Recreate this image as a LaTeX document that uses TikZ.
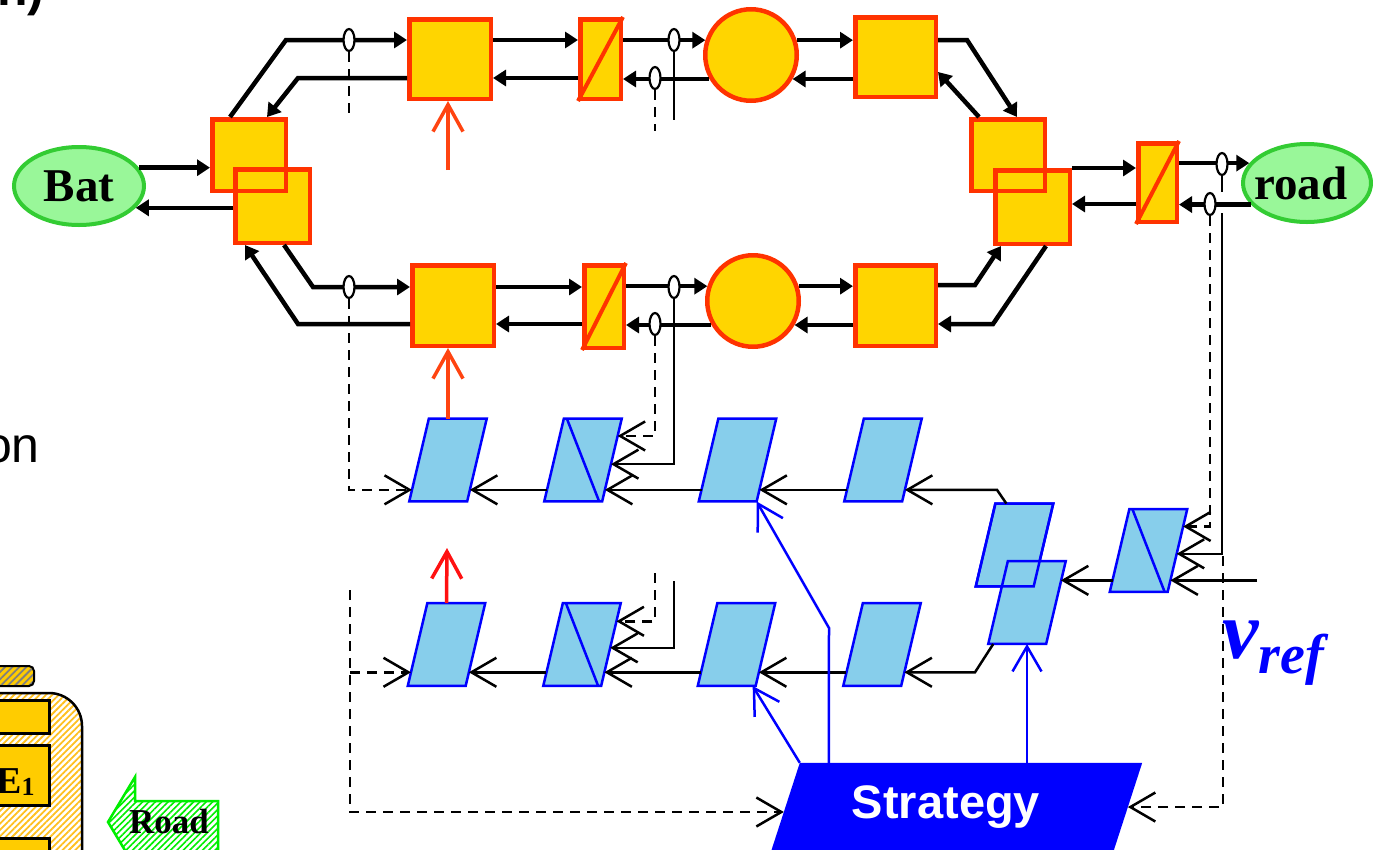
\documentclass[tikz,border=0pt]{standalone}
\usepackage{fontspec}
\setmainfont{Liberation Serif}
\setsansfont{Liberation Sans}
\usetikzlibrary{arrows.meta,shapes.geometric,calc,patterns.meta}
\definecolor{gold}{HTML}{FFD500}
\definecolor{redb}{HTML}{FF3300}
\definecolor{lgreen}{HTML}{99F799}
\definecolor{dgreen}{HTML}{33CC33}
\definecolor{sky}{HTML}{87CEEB}
\definecolor{pblue}{HTML}{0000FF}
\definecolor{orar}{HTML}{FF4411}
\definecolor{rred}{HTML}{FF1111}
\definecolor{hgreen}{HTML}{00EE00}
\definecolor{hyel}{HTML}{FFC020}
\definecolor{boxy}{HTML}{FFCC00}
% parallelogram: [extra style]{name}{cx}{cy}{half slant}
\newcommand\para[5][]{%
  \node[pbox] (#2) at (#3,#4) {};
  \coordinate (#2-tl) at ([xshift=#5pt]#2.north west);
  \coordinate (#2-tr) at ([xshift=#5pt]#2.north east);
  \coordinate (#2-br) at ([xshift=-#5pt]#2.south east);
  \coordinate (#2-bl) at ([xshift=-#5pt]#2.south west);
  \filldraw[pstyle,#1] (#2-tl) -- (#2-tr) -- (#2-br) -- (#2-bl) -- cycle;}
\newcommand\mkedge[3]{%
  \coordinate (#1-l) at ($(#1-bl)!#2!(#1-tl)$);
  \coordinate (#1-r) at ($(#1-br)!#3!(#1-tr)$);}
\begin{document}
\begin{tikzpicture}[x=1pt,y=-1pt,
  sq/.style={rectangle, draw=redb, fill=gold, line width=4.5pt, inner sep=0pt},
  circ/.style={circle, draw=redb, fill=gold, line width=4.5pt, inner sep=0pt, minimum size=91.5pt},
  term/.style={ellipse, draw=dgreen, fill=lgreen, line width=4pt, inner sep=0pt, minimum width=130pt, minimum height=78pt},
  termtext/.style={inner sep=0pt, font=\bfseries\fontsize{47}{50}\selectfont},
  sens/.style={ellipse, draw=black, fill=white, line width=2.2pt, inner sep=0pt, minimum width=11pt, minimum height=22pt},
  pw/.style={line width=4.5pt, -{Triangle[length=13pt,width=16pt]}},
  diag/.style={draw=redb, line width=4pt},
  pbox/.style={rectangle, draw=none, inner sep=0pt, minimum width=57.5pt, minimum height=82.5pt},
  pstyle/.style={draw=pblue, fill=sky, line width=2.5pt},
  bdiag/.style={draw=pblue, line width=2.5pt},
  sig/.style={line width=2.5pt, -{Straight Barb[length=25pt,width=29pt]}},
  sigl/.style={line width=2.5pt},
  dsh/.style={dash pattern=on 10pt off 7pt},
  bsig/.style={draw=pblue, line width=2.5pt, -{Straight Barb[length=25pt,width=29pt]}},
  osig/.style={draw=orar, line width=3.5pt, -{Straight Barb[length=27pt,width=30pt]}},
  rsig/.style={draw=rred, line width=3.5pt, -{Straight Barb[length=27pt,width=30pt]}}
]
\useasboundingbox (0,0) rectangle (1373,849);

% ---------- left cut-off items ----------
\node[anchor=base west, inner sep=0pt, font=\sffamily\bfseries\fontsize{50}{50}\selectfont] (nn) at (-3,5) {n)};
\node[anchor=base east, inner sep=0pt, font=\sffamily\fontsize{50}{50}\selectfont] (on) at (40,462) {on};

\draw[line width=2.5pt, rounded corners=33pt, pattern={Lines[angle=45,distance=4.5pt,line width=1.8pt]}, pattern color=hyel] (-40,693) rectangle (82,900);
\draw[line width=2pt, rounded corners=5pt, preaction={fill=boxy}, pattern={Lines[angle=45,distance=5pt,line width=1.8pt]}, pattern color=gray] (-10,666) rectangle (34,686);
\draw[line width=3pt, fill=boxy] (-10,700) rectangle (49,733);
\draw[line width=3pt, fill=boxy] (-10,745) rectangle (49,805);
\draw[line width=3pt, fill=boxy] (-10,838) rectangle (49,880);
\node[anchor=base west, inner sep=0pt, font=\bfseries\fontsize{38}{38}\selectfont] (E1t) at (-4,793) {E\raisebox{-2pt}{\fontsize{26}{26}\selectfont 1}};

\draw[hgreen, line width=2.5pt, pattern={Lines[angle=45,distance=4.5pt,line width=1.6pt]}, pattern color=hgreen] (108,822) -- (135,777) -- (135,801) -- (218,801) -- (218,860) -- (135,860) -- (135,867) -- cycle;
\node[anchor=base, inner sep=0pt, font=\bfseries\fontsize{35}{35}\selectfont] (roadt) at (169,833) {Road};

% ---------- power nodes ----------
\node[sq, minimum width=73.5pt, minimum height=71.5pt] (A1) at (249,155) {};
\node[sq, minimum width=74.5pt, minimum height=73.5pt] (A2) at (272.5,206) {};
\node[sq, fill=none, minimum width=73.5pt, minimum height=71.5pt] at (249,155) {};
\node[sq, minimum width=81.5pt, minimum height=79.5pt] (B1) at (450,59) {};
\node[sq, minimum width=40.5pt, minimum height=79.5pt] (C1) at (600.5,59) {};
\draw[diag] (C1.south west) -- (C1.north east);
\node[circ] (D1) at (751,55) {};
\node[sq, minimum width=80.5pt, minimum height=79.5pt] (E1) at (895.5,57) {};
\node[sq, minimum width=73.5pt, minimum height=71.5pt] (F1) at (1008,155) {};
\node[sq, minimum width=74.5pt, minimum height=73.5pt] (F2) at (1032.5,207) {};
\node[sq, fill=none, minimum width=73.5pt, minimum height=71.5pt] at (1008,155) {};
\node[sq, minimum width=38.5pt, minimum height=78.5pt] (G) at (1157.5,182.5) {};
\draw[diag] (G.south west) -- (G.north east);
\node[sq, minimum width=81.5pt, minimum height=80.5pt] (B2) at (453,305.5) {};
\node[sq, minimum width=39.5pt, minimum height=82.5pt] (C2) at (604,306.5) {};
\draw[diag] (C2.south west) -- (C2.north east);
\node[circ] (D2) at (753,301) {};
\node[sq, minimum width=80.5pt, minimum height=80.5pt] (E2) at (895.5,305.5) {};
\node[term] (Bat) at (79,186) {};
\node[termtext] (Batt) at (Bat.center) {Bat};
\node[term, minimum width=128pt] (road) at (1307,183) {};
\node[termtext] (roadtt) at (1301,183) {road};

% ---------- power connectors, top ----------
\draw[pw] (Bat.17) -- (A1.west |- Bat.17);
\draw[pw] (A2.west |- Bat.-21) -- (Bat.-21);
\draw[pw] ([xshift=20pt]A1.north west) -- (286,40) -- (B1.west |- 0,40);
\draw[pw] (B1.west |- 0,78) -- (298,78) -- ([xshift=57pt]A1.north west);
\draw[pw] (B1.east |- 0,40) -- (C1.west |- 0,40);
\draw[pw] (C1.west |- 0,78) -- (B1.east |- 0,78);
\draw[pw] (C1.east |- D1.162) -- (D1.162);
\draw[pw] (D1.210) -- (C1.east |- D1.210);
\draw[pw] (D1.18) -- (E1.west |- D1.18);
\draw[pw] (E1.west |- D1.-30) -- (D1.-30);
\draw[pw] (E1.east |- 0,40) -- (967,40) -- ([xshift=48pt]F1.north west);
\draw[pw] ([xshift=10pt]F1.north west) -- (E1.east |- 0,72);
\draw[pw] (F2.north east) -- (G.west |- F2.north east);
\draw[pw] (G.west |- 0,204) -- (F2.east |- 0,204);
\draw[pw] (G.east |- road.161) -- (road.161);
\draw[pw] (road.201) -- (G.east |- road.201);

% ---------- power connectors, bottom ----------
\draw[pw] ([xshift=51pt]A2.south west) -- (313,287) -- (B2.west |- 0,287);
\draw[pw] (B2.west |- 0,324) -- (298,324) -- ([xshift=12pt]A2.south west);
\draw[pw] (B2.east |- 0,287) -- (C2.west |- 0,287);
\draw[pw] (C2.west |- 0,324) -- (B2.east |- 0,324);
\draw[pw] (C2.east |- D2.162) -- (D2.162);
\draw[pw] (D2.210) -- (C2.east |- D2.210);
\draw[pw] (D2.18) -- (E2.west |- D2.18);
\draw[pw] (E2.west |- D2.-30) -- (D2.-30);
\draw[pw] (E2.east |- 0,285) -- (975,285) -- ([xshift=8pt]F2.south west);
\draw[pw] ([xshift=53pt]F2.south west) -- (993,324) -- (E2.east |- 0,324);

% ---------- controllers ----------
\para{P1}{448}{460}{9.8}
\para{P2}{583}{460}{9.8}
\para{P3}{737.5}{460}{9.8}
\para{P4}{883}{460}{9.8}
\para{P1b}{446.5}{644.5}{9.8}
\para{P2b}{582}{644.5}{9.8}
\para{P3b}{736.5}{644.5}{9.8}
\para{P4b}{882}{644.5}{9.8}
\para{Q1}{1014.5}{545}{9.8}
\para{Q2}{1027}{602.5}{9.8}
\draw[pstyle, fill=none] (Q1-tl) -- (Q1-tr) -- (Q1-br) -- (Q1-bl) -- cycle;
\para{R}{1148.5}{550.5}{9.8}
\draw[bdiag] ([xshift=3pt]P2-tl) -- ([xshift=-3pt]P2-br);
\draw[bdiag] ([xshift=3pt]P2b-tl) -- ([xshift=-3pt]P2b-br);
\draw[bdiag] ([xshift=3pt]R-tl) -- ([xshift=-3pt]R-br);

\node[rectangle, draw=none, inner sep=0pt, minimum width=342pt, minimum height=97pt] (Strat) at (955.2,811.5) {};
\coordinate (Strat-tl) at ([xshift=15.8pt]Strat.north west);
\coordinate (Strat-tr) at ([xshift=15.8pt]Strat.north east);
\coordinate (Strat-br) at ([xshift=-15.8pt]Strat.south east);
\coordinate (Strat-bl) at ([xshift=-15.8pt]Strat.south west);
\fill[pblue] (Strat-tl) -- (Strat-tr) -- (Strat-br) -- (Strat-bl) -- cycle;
\node[text=white, font=\sffamily\bfseries\fontsize{47}{47}\selectfont, anchor=base, inner sep=0pt] (StratT) at (946,818) {Strategy};

\mkedge{P1}{.14}{.14}
\mkedge{P2}{.14}{.14}
\mkedge{P3}{.14}{.14}
\mkedge{P4}{.14}{.14}
\mkedge{P1b}{.165}{.165}
\mkedge{P2b}{.165}{.165}
\mkedge{P3b}{.165}{.165}
\mkedge{P4b}{.165}{.165}
\mkedge{R}{.14}{.14}
\mkedge{Q2}{.75}{.75}
\mkedge{Strat}{.495}{.546}
\coordinate (P2-rm) at ($(P2-br)!.45!(P2-tr)$);
\coordinate (P2-rt) at ($(P2-br)!.79!(P2-tr)$);
\coordinate (P2b-rm) at ($(P2b-br)!.46!(P2b-tr)$);
\coordinate (P2b-rt) at ($(P2b-br)!.78!(P2b-tr)$);
\coordinate (R-rm) at ($(R-br)!.46!(R-tr)$);
\coordinate (R-rt) at ($(R-br)!.79!(R-tr)$);

% ---------- signal connectors ----------
\draw[sig] (P2-l) -- (P1-r);
\draw[sig] (P3-l) -- (P2-r);
\draw[sig] (P4-l) -- (P3-r);
\draw[sig] ([xshift=11pt]Q1-tl) -- (997,0 |- P4-r) -- (P4-r);
\draw[sig] (P2b-l) -- (P1b-r);
\draw[sig] (P3b-l) -- (P2b-r);
\draw[sig] (P4b-l) -- (P3b-r);
\draw[sig] ([xshift=5pt]Q2-bl) -- (975,0 |- P4b-r) -- (P4b-r);
\draw[sig] (R-l) -- (Q2-r |- R-l);
\coordinate (x581) at (1257,0 |- R-r);
\draw[sig] (x581) -- (R-r);

% sensors and their taps
\node[sens] (S1) at (349,40) {};
\node[sens] (S2) at (674,40) {};
\node[sens] (S3) at (655,78) {};
\node[sens] (S4) at (1222,164) {};
\node[sens] (S5) at (1210,204) {};
\node[sens] (S6) at (349,287) {};
\node[sens] (S7) at (674,287) {};
\node[sens] (S8) at (655,324) {};
\draw[sigl, dsh] (S1.south) -- (S1.south |- 0,120);
\draw[sigl] (S2.south) -- (S2.south |- 0,120);
\draw[sigl, dsh] (S3.south) -- (S3.south |- 0,131);
\draw[sigl] (S4.south) -- (S4.south |- 0,192);
\coordinate (s4b) at (1222,213);
\draw[sig] (s4b) -- (s4b |- R-rm) -- (R-rm);
\draw[sig, dsh] (S5.south) -- (S5.south |- R-rt) -- (R-rt);
\draw[sig, dsh] (S6.south) -- (S6.south |- P1-l) -- (P1-l);
\draw[sig] (S7.south) -- (S7.south |- P2-rm) -- (P2-rm);
\draw[sig, dsh] (S8.south) -- (S8.south |- P2-rt) -- (P2-rt);
\coordinate (d655) at (655,573);
\coordinate (d674) at (674,581);
\draw[sig, dsh] (d655) -- (d655 |- P2b-rt) -- (P2b-rt);
\draw[sig] (d674) -- (d674 |- P2b-rm) -- (P2b-rm);
\coordinate (dl) at (350,590);
\draw[sig, dsh] (dl) -- (dl |- Strat-l) -- (Strat-l);
\draw[sig, dsh] (dl |- P1b-l) -- (P1b-l);
\coordinate (vr) at (1223,556);
\draw[sig, dsh] (vr) -- (vr |- Strat-r) -- (Strat-r);

% strategy outputs
\draw[bsig] (Strat-tl) -- ([xshift=-3pt]P3b-br);
\coordinate (bk) at (829,628);
\draw[bsig] ([xshift=29pt]Strat-tl) -- (bk) -- (P3-br);
\draw[bsig] (Q2.south |- Strat.north) -- (Q2.south);

% set-point arrows
\coordinate (o1) at (448,170);
\draw[osig] (o1) -- (o1 |- B1.south);
\draw[osig] (P1.north) -- (P1.north |- B2.south);
\coordinate (o3) at (447,548);
\draw[rsig] (P1b.north) -- (o3);

\node[anchor=base west, inner sep=0pt, text=pblue, font=\bfseries\itshape\fontsize{82}{82}\selectfont] (vref) at (1222,658) {v\raisebox{-15pt}{\fontsize{56}{56}\selectfont ref}};
\end{tikzpicture}
\end{document}
